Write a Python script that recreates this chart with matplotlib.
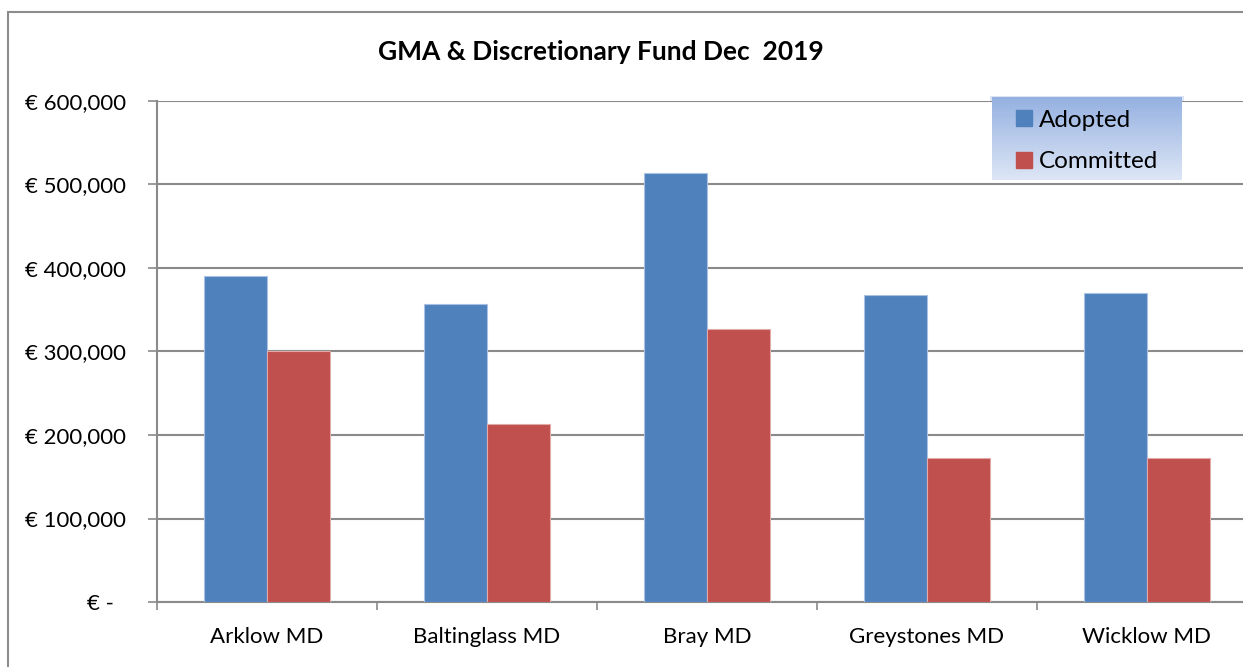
import numpy as np
import matplotlib.pyplot as plt
from matplotlib.patches import Rectangle, Patch

plt.rcParams['font.family'] = ['Lato', 'DejaVu Sans']

districts = ['Arklow MD', 'Baltinglass MD', 'Bray MD', 'Greystones MD', 'Wicklow MD']
adopted = [391000, 357000, 514000, 368000, 370000]
committed = [301000, 213000, 327000, 172000, 173000]
yticks = [0, 100000, 200000, 300000, 400000, 500000, 600000]
ylabels = ['€ -  ' if v == 0 else '€ {:,}'.format(v) for v in yticks]

W, H = 1243, 667
fig = plt.figure(figsize=(W / 100, H / 100), dpi=100)

# chart area border (right and bottom edges are cut off in the source)
fig.add_artist(Rectangle((8 / W, -0.1), 1.2, 1 - 12 / H + 0.1,
                         transform=fig.transFigure, fill=False,
                         edgecolor='#8c8c8c', linewidth=1.5))

ax = fig.add_axes([157 / W, (H - 602) / H, 1100 / W, (602 - 101) / H])
x = np.arange(len(districts))
bw = 63 / 220
ax.bar(x - bw / 2, adopted, bw, color='#4F81BD', edgecolor='#a9c1e3',
       linewidth=0.8, zorder=3)
ax.bar(x + bw / 2, committed, bw, color='#C0504D', edgecolor='#e3aaa8',
       linewidth=0.8, zorder=3)

ax.set_xlim(-0.5, 4.5)
ax.set_ylim(0, 600000)
ax.set_yticks(yticks)
ax.set_yticklabels(ylabels, fontsize=16)
ax.yaxis.grid(True, color='#8a8a8a', linewidth=1.5, zorder=0)
ax.tick_params(axis='y', length=6.5, width=1.2, color='#8a8a8a', pad=16)

ax.set_xticks(x)
ax.set_xticklabels(districts, fontsize=16)
ax.set_xticks(np.arange(-0.5, 5, 1), minor=True)
ax.tick_params(axis='x', which='major', length=0, pad=18)
ax.tick_params(axis='x', which='minor', length=6, width=1.2, color='#8a8a8a')

for s in ['top', 'right']:
    ax.spines[s].set_visible(False)
for s in ['left', 'bottom']:
    ax.spines[s].set_color('#8a8a8a')
    ax.spines[s].set_linewidth(1.5)

fig.text(601 / W, 1 - 52 / H, 'GMA & Discretionary Fund Dec  2019',
         ha='center', va='center', fontsize=19, fontweight='bold')

# legend box with vertical blue gradient and soft shadow
lx, ly, lw, lh = 992, 97, 190, 83
fig.add_artist(Rectangle(((lx - 2) / W, (H - ly - lh - 7) / H), (lw + 4) / W,
                         (lh + 8) / H, transform=fig.transFigure,
                         facecolor='#dde5f4', edgecolor='none', zorder=-1))
lax = fig.add_axes([lx / W, (H - ly - lh) / H, lw / W, lh / H])
grad = np.linspace(0, 1, 100).reshape(-1, 1)
top = np.array([0x95, 0xb1, 0xe1]) / 255
bot = np.array([0xdd, 0xe6, 0xf6]) / 255
img = top + (bot - top) * grad[:, :, None]
lax.imshow(img, aspect='auto', extent=(0, 1, 0, 1))
lax.set_axis_off()

handles = [Patch(color='#4F81BD', label='Adopted'),
           Patch(color='#C0504D', label='Committed')]
leg = fig.legend(handles=handles, loc='upper left',
                 bbox_to_anchor=(1006 / W, 1 - 100 / H), frameon=False,
                 fontsize=17.5, handlelength=0.65, handleheight=0.65,
                 handletextpad=0.3, labelspacing=0.85, borderaxespad=0)

fig.savefig('out.png', dpi=100)
